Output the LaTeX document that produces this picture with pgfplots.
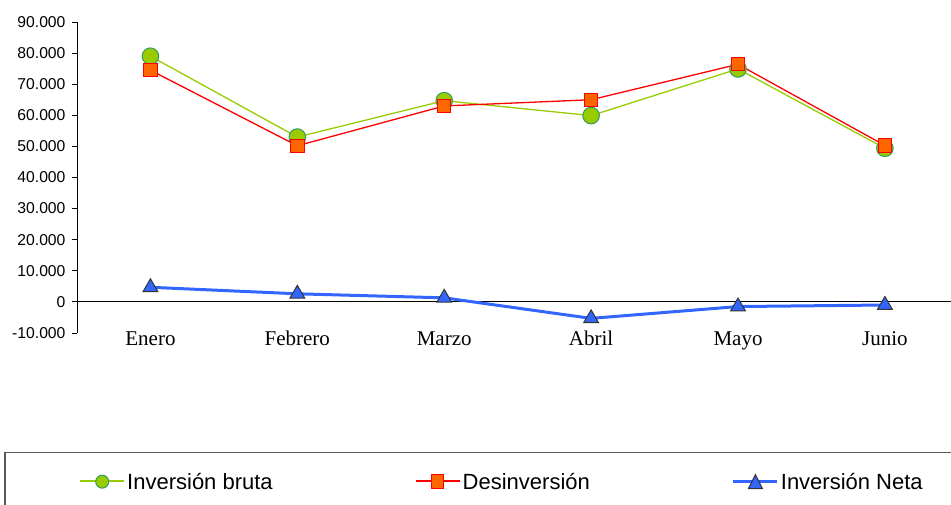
\documentclass[border=0pt]{standalone}
\usepackage{fontspec}
\setmainfont{Liberation Sans}
\newfontfamily\serif{Liberation Serif}
\usepackage{pgfplots}
\pgfplotsset{compat=1.18}

\definecolor{cgreen}{HTML}{99CC00}
\definecolor{cgreenedge}{HTML}{339966}
\definecolor{cred}{HTML}{FF0000}
\definecolor{corange}{HTML}{FF6600}
\definecolor{cblue}{HTML}{3366FF}
\definecolor{cedge}{HTML}{333333}

\begin{document}
\begin{tikzpicture}
\path[use as bounding box] (0,0) rectangle (951pt,505pt);
\begin{axis}[
    at={(77pt,172pt)}, anchor=south west,
    scale only axis,
    width=874pt, height=311pt,
    xmin=-0.5, xmax=5.45,
    ymin=-10000, ymax=90000,
    axis y line=left,
    axis x line=middle,
    axis line style={-, black, line width=0.9pt},
    hide obscured x ticks=false,
    hide obscured y ticks=false,
    xtick={0,1,2,3,4,5},
    xticklabels={Enero,Febrero,Marzo,Abril,Mayo,Junio},
    minor xtick={0.5,1.5,2.5,3.5,4.5},
    xtick style={draw=none},
    minor x tick style={black, line width=0.9pt},
    minor tick length=6pt,
    major tick length=5pt,
    tick align=outside,
    ytick={-10000,0,10000,20000,30000,40000,50000,60000,70000,80000,90000},
    y tick style={black, line width=0.9pt},
    scaled y ticks=false,
    yticklabel style={font=\fontsize{15.7}{18}\selectfont, anchor=east, xshift=-3pt},
    y tick label style={/pgf/number format/.cd, 1000 sep={.}, assume math mode=true},
    x tick label style={font=\serif\fontsize{21}{24}\selectfont, anchor=base, yshift=-39pt},
    clip=false,
    legend columns=3,
    legend style={at={(axis description cs:0.0023,-0.478)}, anchor=west,
        draw=none, fill=none, inner sep=0pt,
        font=\fontsize{22}{26}\selectfont,
        /tikz/every even column/.append style={column sep=140pt}},
]
\addplot[cgreen, line width=1.3pt, mark=*, mark size=8.3pt,
    mark options={fill=cgreen, draw=cgreenedge, line width=1pt},
    legend image code/.code={
        \draw[cgreen, line width=2pt] (0pt,0.4pt) -- (44pt,0.4pt);
        \draw[fill=cgreen, draw=cgreenedge, line width=1pt] (22pt,0pt) circle (6.5pt);}]
    coordinates {
    (0,79000) (1,53000) (2,64700) (3,59900) (4,74900) (5,49400)
};
\addplot[cred, line width=1.3pt, mark=square*, mark size=6.7pt,
    mark options={fill=corange, draw=cred, line width=1pt},
    legend image code/.code={
        \draw[cred, line width=2pt] (0pt,0.4pt) -- (44pt,0.4pt);
        \draw[fill=corange, draw=cred, line width=1pt] (16pt,-7pt) rectangle (28pt,7pt);}]
    coordinates {
    (0,74500) (1,50200) (2,63000) (3,65000) (4,76400) (5,50300)
};
\addplot[cblue, line width=3pt, mark=triangle*, mark size=8.5pt,
    mark options={fill=cblue, draw=cedge, line width=1pt},
    legend image code/.code={
        \draw[cblue, line width=3pt] (0pt,0pt) -- (44pt,0pt);
        \draw[fill=cblue, draw=cedge, line width=1pt] (15pt,-7pt) -- (29pt,-7pt) -- (22pt,7pt) -- cycle;}]
    coordinates {
    (0,4700) (1,2600) (2,1300) (3,-5300) (4,-1500) (5,-1000)
};
\legend{Inversión bruta, Desinversión, Inversión Neta}
\end{axis}
\draw[draw=gray!70!black, line width=1.5pt] (5pt,-10pt) rectangle (975pt,52.5pt);
\end{tikzpicture}
\end{document}
